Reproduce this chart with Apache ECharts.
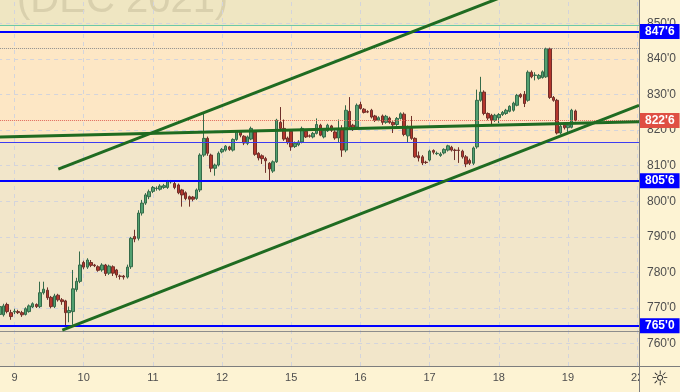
<!DOCTYPE html>
<html><head><meta charset="utf-8">
<script src="https://cdn.jsdelivr.net/npm/echarts@6/dist/echarts.min.js"></script>
<style>html,body{margin:0;padding:0;background:#fdf3d3;}#c{width:680px;height:392px;}</style>
</head><body><div id="c"></div>
<script>
// ---- DATA (hourly bars, each [open, close, low, high]) ----
const sessionPre = [[768.2,770.4,767.6,771.0],[768.1,770.6,767.6,771.2],[771.0,769.0,768.5,771.5],[768.7,767.6,766.7,769.5]];
const session9 = [[768.9,769.1,768.3,769.8],[769.0,768.7,768.3,769.5],[768.7,768.1,767.5,769.2],[768.2,769.8,767.9,770.2],[769.0,770.6,768.7,771.0],[770.3,771.2,770.0,771.6],[771.0,770.4,770.0,771.3],[770.4,774.3,770.0,777.4],[774.3,775.3,773.8,777.4],[775.0,772.9,772.3,775.8],[773.0,770.4,769.9,773.4],[770.4,773.4,770.0,774.0],[773.6,772.3,771.8,774.0],[772.3,771.8,770.9,772.8],[772.0,768.7,765.2,772.3],[768.7,769.3,766.0,770.4],[769.0,775.4,765.3,780.7],[775.2,777.5,774.6,778.5],[777.5,782.1,777.0,785.9]];
const session10 = [[782.8,781.5,780.9,783.3],[781.5,783.5,781.0,784.0],[782.8,782.0,781.5,783.5],[782.1,781.9,781.5,782.4],[781.6,780.6,780.2,782.0],[780.7,782.1,780.2,782.6],[782.1,779.7,779.0,782.4],[779.8,781.8,779.3,782.2],[781.6,779.8,779.0,782.0],[780.7,779.3,778.5,781.0],[779.0,778.9,778.0,779.4],[779.0,778.7,778.0,779.3],[778.7,781.5,778.3,782.2],[781.6,789.6,781.0,790.0],[790.1,789.4,788.5,792.0],[789.6,796.7,789.0,797.5],[796.7,799.5,796.0,800.4],[799.5,801.8,799.0,802.3],[801.3,802.7,800.6,803.3]];
const session11 = [[802.8,803.9,802.3,804.3],[803.6,803.7,803.0,804.2],[803.4,804.3,803.0,804.8],[803.9,804.4,803.5,804.9],[803.9,805.7,803.5,806.0],[805.5,805.6,805.0,806.0],[805.0,803.9,803.4,805.5],[804.6,802.4,802.0,805.0],[803.2,801.8,798.5,803.5],[802.4,800.8,800.3,802.8],[801.3,800.6,798.5,801.6],[801.2,800.6,800.0,801.5],[800.8,803.2,800.4,803.6],[803.2,813.0,802.6,813.5],[813.0,817.7,812.5,824.7],[817.7,813.5,812.8,818.2],[813.0,809.3,808.2,813.4],[809.3,810.2,807.2,810.6],[810.2,813.5,809.8,814.0]];
const session12 = [[813.9,814.6,813.5,815.0],[814.4,815.5,814.0,815.8],[815.3,814.6,814.2,815.6],[814.4,817.4,814.0,817.7],[817.4,819.5,817.0,819.8],[819.5,818.6,818.0,820.0],[818.3,816.4,815.8,818.6],[816.3,818.1,815.8,818.5],[817.5,820.5,817.2,821.0],[819.5,813.2,812.8,820.0],[813.5,812.2,811.5,813.8],[812.8,812.0,810.5,813.2],[812.0,811.4,808.0,812.5],[810.7,809.1,805.5,811.0],[808.5,811.1,808.0,811.5],[811.1,822.8,810.8,823.2],[822.2,820.5,820.0,826.5],[820.5,817.5,817.0,823.0],[817.8,816.5,816.0,818.2]];
const session15 = [[819.7,815.3,814.2,820.2],[815.4,816.3,815.0,816.8],[815.9,816.7,815.5,817.2],[816.7,820.5,816.3,821.0],[819.7,818.1,817.8,820.1],[818.4,818.3,817.9,818.8],[818.1,819.1,817.7,819.5],[819.1,821.6,818.8,823.3],[821.4,818.6,818.3,821.8],[818.1,820.0,817.7,820.4],[819.8,821.4,819.5,821.8],[821.2,820.0,819.5,821.5],[819.5,817.8,817.3,820.0],[817.8,820.0,816.5,823.0],[820.5,814.4,812.5,821.4],[814.4,825.6,813.8,827.0],[825.3,820.9,820.3,829.3],[821.4,820.5,819.8,821.8],[820.9,827.0,820.5,827.5]];
const session16 = [[827.2,826.1,825.8,828.0],[825.9,825.0,824.7,826.2],[825.2,825.1,824.8,825.6],[825.6,823.7,823.3,826.0],[824.0,822.8,822.3,824.3],[822.8,823.5,822.5,823.9],[824.0,822.2,821.5,824.4],[822.2,823.9,821.8,824.3],[823.4,822.2,821.8,823.8],[822.2,821.5,819.2,822.5],[821.6,823.3,821.2,823.7],[823.3,824.6,823.0,825.0],[824.5,818.8,818.3,825.0],[818.4,820.9,816.5,821.3],[820.6,817.7,817.3,824.0],[817.7,812.5,812.2,818.0],[812.8,812.2,811.2,814.0],[812.5,810.8,810.2,813.0],[811.0,810.9,810.5,811.4]];
const session17 = [[811.6,814.1,811.2,814.5],[814.3,813.8,813.2,814.6],[813.4,813.5,813.0,814.0],[812.9,813.3,812.5,813.8],[813.6,814.6,813.2,814.9],[814.4,815.6,814.0,815.9],[815.2,814.4,814.0,815.6],[814.4,814.3,811.6,814.8],[814.4,814.3,810.8,815.2],[814.1,812.5,812.0,814.5],[812.5,810.5,809.6,813.0],[811.5,810.7,810.2,812.0],[810.7,815.0,810.2,815.4],[815.3,828.4,814.8,831.4],[828.4,830.7,828.0,835.0],[830.7,824.7,824.2,831.2],[824.7,823.4,822.8,825.0],[824.2,822.8,821.3,824.6],[822.8,824.2,822.3,824.6]];
const session18 = [[823.5,824.4,822.0,824.8],[824.4,825.0,824.0,825.4],[824.7,825.6,824.3,826.0],[825.3,826.7,825.0,827.0],[825.6,827.6,825.2,828.0],[827.0,829.8,826.7,830.2],[830.0,829.4,829.0,830.4],[830.1,827.5,826.5,831.0],[828.4,836.3,828.0,836.8],[836.3,835.0,834.6,836.8],[835.4,835.5,834.0,836.3],[834.6,835.4,834.2,835.8],[834.8,836.4,834.5,836.8],[835.0,842.9,834.7,843.2],[842.9,829.2,828.8,843.2],[829.2,828.4,828.0,829.6],[828.4,819.2,818.8,828.8],[819.2,821.1,818.8,821.5],[821.4,820.7,820.2,821.8]];
const session19 = [[820.7,821.4,819.5,822.0],[820.8,825.6,820.5,826.0],[825.4,822.75,822.5,825.8]];

const dayLabels = ['9','10','11','12','15','16','17','18','19'];
const nextDayLabel = '22';
const barsPerSession = 19;

// price levels
const boxedLevels = [847.75, 805.75, 765.0];
const thinBlueLevels = [816.6];
const tealLevel = 849.4;
const sessionHigh = 843.0;
const lastPrice = 822.75;
const greyLevel = 763.5;
const yMin = 753.7, yMax = 856.6;

// trend lines as [barIndex, price] pairs
const channelUpper = [[16.03, 809.06], [150, 862.25]];
const channelLower = [[17.13, 763.8], [175.5, 827.0]];
const flatTrend = [[-0.5, 818.1], [175.5, 822.4]];

// ---- BUILD ----
const sessions = [sessionPre, session9, session10, session11, session12, session15, session16, session17, session18, session19];
const candles = [];
const dayStarts = [];
sessions.forEach((s, i) => {
  if (i > 0) dayStarts.push(candles.length);
  s.forEach(b => candles.push(b));
});
const lastStart = dayStarts[dayStarts.length - 1] + barsPerSession;
const categories = new Array(lastStart + 1).fill('');
dayStarts.forEach((d, i) => { categories[d] = dayLabels[i]; });
categories[lastStart] = nextDayLabel;
const allStarts = dayStarts.concat([lastStart]);
const N = categories.length;

const eighths = p => { const w = Math.floor(p + 1e-9); return w + "'" + Math.round((p - w) * 8); };

const FONT = "'Liberation Sans Narrow','Liberation Sans',Arial,sans-serif";
const lbl = (bg) => ({
  show: true, position: 'end', distance: 1, formatter: p => eighths(p.value),
  backgroundColor: bg, color: '#ffffff', fontWeight: 'bold', fontSize: 12, fontFamily: FONT,
  padding: [2, 5, 1, 5], lineHeight: 12
});

const levelLines = [];
levelLines.push({ yAxis: tealLevel, lineStyle: { color: '#6cc9a6', width: 1, type: 'solid' } });
levelLines.push({ yAxis: sessionHigh, lineStyle: { color: '#8f8f8f', width: 1, type: 'dotted' } });
thinBlueLevels.forEach(v => levelLines.push({ yAxis: v, lineStyle: { color: '#3d3df2', width: 1, type: 'solid' } }));
levelLines.push({ yAxis: greyLevel, lineStyle: { color: '#8c8c8c', width: 1, type: 'solid' } });
levelLines.push({ yAxis: lastPrice, lineStyle: { color: '#e0685b', width: 1, type: 'dotted' }, label: lbl('#df4f43') });
boxedLevels.forEach(v => levelLines.push({ yAxis: v, lineStyle: { color: '#0000ff', width: 2, type: 'solid' }, label: lbl('#0000ff') }));

const bands = [
  [{ yAxis: tealLevel, itemStyle: { color: '#efe6c2' } }, { yAxis: yMax }],
  [{ yAxis: boxedLevels[0], itemStyle: { color: '#fcefc7' } }, { yAxis: tealLevel }],
  [{ yAxis: thinBlueLevels[0], itemStyle: { color: '#fde7c5' } }, { yAxis: boxedLevels[0] }],
  [{ yAxis: yMin, itemStyle: { color: '#f2e6ca' } }, { yAxis: thinBlueLevels[0] }]
];

const trendSeries = [channelUpper, channelLower, flatTrend].map(pts => ({
  type: 'line', xAxisIndex: 1, yAxisIndex: 0, data: pts, symbol: 'none', showSymbol: false,
  z: 4, silent: true, clip: true, lineStyle: { color: '#1f6b21', width: 3 }
}));

const chart = echarts.init(document.getElementById('c'), null, { renderer: 'canvas', width: 680, height: 392 });
chart.setOption({
  animation: false,
  backgroundColor: '#fdf3d3',
  grid: { left: -1.9, right: 41, top: 0, bottom: 26, containLabel: false, outerBoundsMode: 'none' },
  xAxis: [
    { type: 'category', data: categories, boundaryGap: true,
      axisLine: { show: false }, axisTick: { show: false }, splitLine: { show: false },
      axisLabel: { interval: 0, color: '#4d4d4d', fontSize: 11, fontFamily: FONT, margin: 6 } },
    { type: 'value', min: -0.5, max: N - 0.5, show: false }
  ],
  yAxis: [{
    type: 'value', position: 'right', min: yMin, max: yMax, splitNumber: 10, minInterval: 10, maxInterval: 10,
    axisLine: { show: false }, axisTick: { show: false },
    axisLabel: { color: '#4d4d4d', fontSize: 12, fontFamily: FONT, margin: 8, showMinLabel: false, showMaxLabel: false,
      formatter: v => Math.abs(v / 10 - Math.round(v / 10)) < 1e-6 ? Math.round(v) + "'0" : '' },
    splitLine: { show: true, showMinLine: false, showMaxLine: false, lineStyle: { color: '#d3d4dc', width: 1, type: [4, 4] } }
  }],
  series: [
    { type: 'line', xAxisIndex: 1, data: [], silent: true,
      markArea: { z: -10, silent: true, data: bands } },
    { type: 'line', xAxisIndex: 1, data: [], silent: true,
      markLine: { z: 1, silent: true, symbol: ['none', 'none'], label: { show: false },
        lineStyle: { color: '#d3d4dc', width: 1, type: [4, 4] },
        data: allStarts.map(i => ({ xAxis: i })) } },
    { type: 'candlestick', xAxisIndex: 0, data: candles, barWidth: 3, z: 2,
      itemStyle: { color: '#52a070', color0: '#b5362c', borderColor: '#356b4a', borderColor0: '#70302a', borderWidth: 1 } },
    { type: 'line', xAxisIndex: 1, data: [], silent: true,
      markLine: { z: 3, silent: true, symbol: ['none', 'none'], label: { show: false }, data: levelLines } }
  ].concat(trendSeries),
  graphic: [
    { type: 'text', z: -5, silent: true, style: { text: '(DEC 2021)', x: 17, y: 1, verticalAlign: 'middle',
        font: "40px 'Liberation Sans', Arial, sans-serif", fill: '#d9d0ad' } },
    { type: 'rect', z: 50, silent: true, shape: { x: 640, y: 367, width: 40, height: 25 }, style: { fill: '#fdf3d3' } },
    { type: 'line', z: 55, silent: true, shape: { x1: 0, y1: 366.5, x2: 680, y2: 366.5 }, style: { stroke: '#7d7d7d', lineWidth: 1 } },
    { type: 'line', z: 55, silent: true, shape: { x1: 639.5, y1: 0, x2: 639.5, y2: 392 }, style: { stroke: '#7d7d7d', lineWidth: 1 } },
    { type: 'text', z: 60, silent: true, style: { text: '☼', x: 660, y: 380, align: 'center', verticalAlign: 'middle',
        font: "20px 'DejaVu Sans', sans-serif", fill: '#2a2a2a' } }
  ]
});
</script></body></html>
